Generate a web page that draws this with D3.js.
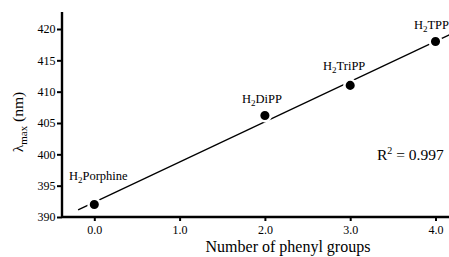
<!DOCTYPE html>
<html lang="en">
<head>
<meta charset="UTF-8">
<title>phenyl</title>
<script src="https://d3js.org/d3.v7.min.js"></script>
<style>
  body { margin: 0; background: #fff; }
</style>
</head>
<body>
<div id="chart"></div>
<script>
// data
var phenyls = [0, 2, 3, 4];
var lambdaMax = [392, 406.2, 411, 418];
var names = ["Porphine", "DiPP", "TriPP", "TPP"];
var xTicks = [0, 1, 2, 3, 4];
var yTicks = [390, 395, 400, 405, 410, 415, 420];
var rSquared = "0.997";

var width = 449, height = 257;
var serif = "'Liberation Serif', 'Times New Roman', Times, 'DejaVu Serif', serif";
var svg = d3.select("#chart").append("svg")
    .attr("width", width)
    .attr("height", height)
    .attr("font-family", serif);

var x = d3.scaleLinear().domain([0, 4]).range([94.3, 435.5]);
var y = d3.scaleLinear().domain([390, 420]).range([217, 29]);

var pts = phenyls.map((p, i) => ({x: p, y: lambdaMax[i], name: names[i]}));

// least squares fit
var mx = d3.mean(phenyls), my = d3.mean(lambdaMax);
var sxy = d3.sum(pts, d => (d.x - mx) * (d.y - my));
var sxx = d3.sum(pts, d => (d.x - mx) * (d.x - mx));
var slope = sxy / sxx, icpt = my - slope * mx;

svg.append("clipPath").attr("id", "clip")
  .append("rect").attr("x", 62).attr("y", 0).attr("width", width - 62).attr("height", 217);

svg.append("line")
    .attr("clip-path", "url(#clip)")
    .attr("x1", x(-0.19)).attr("y1", y(icpt + slope * -0.19))
    .attr("x2", x(4.3)).attr("y2", y(icpt + slope * 4.3))
    .attr("stroke", "#000").attr("stroke-width", 1.3);

// axes
var yAxis = svg.append("g")
    .attr("transform", "translate(62,0)")
    .call(d3.axisLeft(y).tickValues(yTicks).tickSize(5).tickPadding(1.5));
yAxis.select(".domain").attr("d", "M0,12V217");

var xAxis = svg.append("g")
    .attr("transform", "translate(0,217)")
    .call(d3.axisBottom(x).tickValues(xTicks).tickFormat(d3.format(".1f")).tickSize(4).tickPadding(4));
xAxis.select(".domain").attr("d", "M62,0H449");

svg.selectAll(".domain").attr("stroke-width", 2.4);
svg.selectAll(".tick line").attr("stroke-width", 2);
svg.selectAll("g").attr("font-family", serif).attr("font-size", 12);

// points with white halo
svg.selectAll("circle.pt").data(pts).enter().append("circle")
    .attr("class", "pt")
    .attr("cx", d => x(d.x)).attr("cy", d => y(d.y))
    .attr("r", 5.8)
    .attr("fill", "#000")
    .attr("stroke", "#fff").attr("stroke-width", 2.5);

// labels
var labelOffsets = [[4, 24], [-3, 12], [-6, 15], [-4, 13]];
var lab = svg.selectAll("text.lab").data(pts).enter().append("text")
    .attr("class", "lab")
    .attr("x", (d, i) => x(d.x) + labelOffsets[i][0])
    .attr("y", (d, i) => y(d.y) - labelOffsets[i][1])
    .attr("text-anchor", "middle")
    .attr("font-size", 12.5);
lab.append("tspan").text("H");
lab.append("tspan").attr("dy", 3).attr("font-size", 9).text("2");
lab.append("tspan").attr("dy", -3).text(d => d.name);

// R^2
var r2 = svg.append("text")
    .attr("x", 377).attr("y", 160)
    .attr("font-size", 15.5);
r2.append("tspan").text("R");
r2.append("tspan").attr("dy", -6).attr("font-size", 10).text("2");
r2.append("tspan").attr("dy", 6).text(" = " + rSquared);

// axis titles
svg.append("text")
    .attr("x", 288).attr("y", 252)
    .attr("text-anchor", "middle")
    .attr("font-size", 16)
    .text("Number of phenyl groups");

var yt = svg.append("text")
    .attr("transform", "translate(23,122) rotate(-90)")
    .attr("text-anchor", "middle")
    .attr("font-size", 15.5);
yt.append("tspan").text("λ");
yt.append("tspan").attr("dy", 4).attr("font-size", 11).text("max");
yt.append("tspan").attr("dy", -4).text(" (nm)");
</script>
</body>
</html>
